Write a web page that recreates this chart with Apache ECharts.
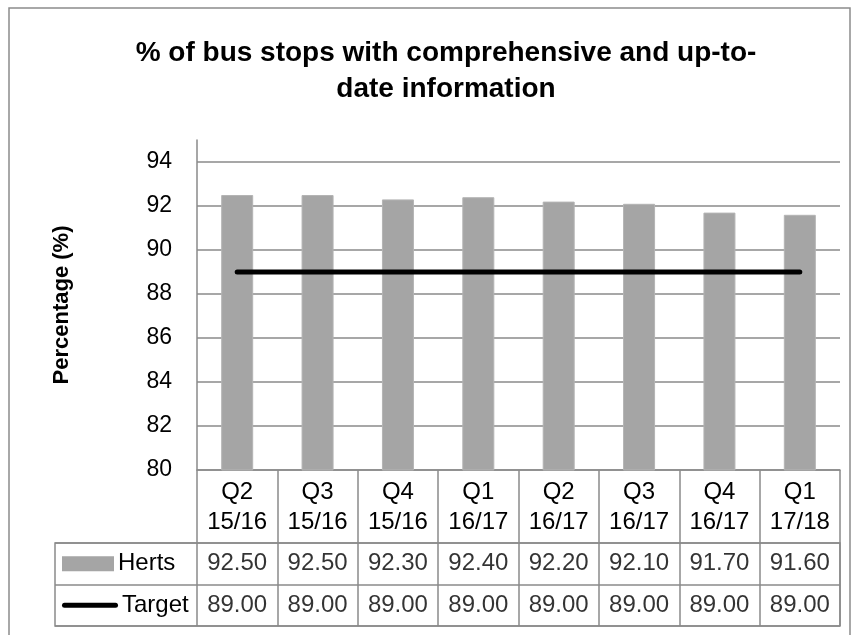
<!DOCTYPE html>
<html>
<head>
<meta charset="utf-8">
<script src="https://cdn.jsdelivr.net/npm/echarts@6/dist/echarts.min.js"></script>
<style>
  html, body { margin: 0; padding: 0; background: #fff; }
  #chart { width: 854px; height: 635px; }
</style>
</head>
<body>
<div id="chart"></div>
<script>
var quarters = ['Q2\n15/16', 'Q3\n15/16', 'Q4\n15/16', 'Q1\n16/17', 'Q2\n16/17', 'Q3\n16/17', 'Q4\n16/17', 'Q1\n17/18'];
var herts = [92.5, 92.5, 92.3, 92.4, 92.2, 92.1, 91.7, 91.6];
var target = [89, 89, 89, 89, 89, 89, 89, 89];
var rows = ['Herts', 'Target'];

var font = 'Liberation Sans, Arial, sans-serif';
var grey = '#a5a5a5';
var lineGrey = '#8a8a8a';

var chart = echarts.init(document.getElementById('chart'));

// table cells: [column, row, value]
var cells = [];
herts.forEach(function (v, i) { cells.push([i, 'Herts', v]); });
target.forEach(function (v, i) { cells.push([i, 'Target', v]); });

var option = {
    backgroundColor: '#fff',
    animation: false,
    textStyle: {fontFamily: font},
    title: {
        text: '% of bus stops with comprehensive and up-to-\ndate information',
        left: 441,
        top: 30,
        textAlign: 'center',
        textStyle: {fontSize: 28, fontWeight: 'bold', color: '#000', lineHeight: 36, fontFamily: font}
    },
    graphic: [{
        type: 'rect',
        shape: {x: 9, y: 8, width: 841, height: 700},
        style: {fill: 'none', stroke: '#8c8c8c', lineWidth: 1.5},
        silent: true
    }],
    grid: [
        {left: 197, top: 140, width: 643, height: 330},
        {left: 55, top: 543, width: 785, height: 83, show: true, borderColor: lineGrey, borderWidth: 1.5},
        {left: 197, top: 543, width: 643, height: 83}
    ],
    xAxis: [
        {
            type: 'category', gridIndex: 0, data: quarters,
            axisLine: {lineStyle: {color: lineGrey, width: 1.5}},
            axisTick: {show: true, length: 73, lineStyle: {color: lineGrey, width: 1.5}},
            axisLabel: {color: '#000', fontSize: 24, lineHeight: 30, margin: 7, interval: 0}
        },
        {type: 'value', gridIndex: 1, show: false},
        {
            type: 'category', gridIndex: 2, data: quarters,
            axisLine: {show: false}, axisTick: {show: false}, axisLabel: {show: false},
            splitLine: {show: true, interval: 0, lineStyle: {color: lineGrey, width: 1.5}}
        }
    ],
    yAxis: [
        {
            type: 'value', gridIndex: 0, min: 80, max: 95, interval: 2,
            name: 'Percentage (%)', nameLocation: 'middle', nameGap: 124,
            nameTextStyle: {fontSize: 22, fontWeight: 'bold', color: '#000'},
            axisLine: {show: true, lineStyle: {color: lineGrey, width: 1.5}},
            axisTick: {show: false},
            axisLabel: {color: '#000', fontSize: 23, margin: 25, showMaxLabel: false},
            splitLine: {show: true, showMaxLine: false, lineStyle: {color: lineGrey, width: 1.5}}
        },
        {
            type: 'category', gridIndex: 1, data: rows, inverse: true,
            axisLine: {show: false}, axisTick: {show: false}, axisLabel: {show: false},
            splitLine: {show: true, lineStyle: {color: lineGrey, width: 1.5}}
        },
        {
            type: 'category', gridIndex: 2, data: rows, inverse: true,
            axisLine: {show: false}, axisTick: {show: false},
            axisLabel: {
                margin: 135, align: 'left', fontSize: 24, color: '#000',
                formatter: function (v) {
                    return (v === 'Herts' ? '{box|}' : '{line|}') + '{name|' + v + '}';
                },
                rich: {
                    box: {width: 52, height: 15, backgroundColor: grey},
                    line: {width: 56, height: 5, backgroundColor: '#000', borderRadius: 3},
                    name: {fontSize: 24, color: '#000', padding: [0, 0, 0, 4]}
                }
            }
        }
    ],
    series: [
        {
            name: 'Herts', type: 'bar', xAxisIndex: 0, yAxisIndex: 0,
            data: herts, barWidth: 32,
            itemStyle: {color: grey, borderColor: '#b4b4b4', borderWidth: 1}
        },
        {
            name: 'Target', type: 'line', xAxisIndex: 0, yAxisIndex: 0,
            data: target, symbol: 'none',
            lineStyle: {color: '#000', width: 5, cap: 'round'}
        },
        {
            type: 'scatter', xAxisIndex: 2, yAxisIndex: 2,
            data: cells, symbolSize: 1, itemStyle: {color: 'rgba(0,0,0,0)'},
            label: {
                show: true, position: 'inside', fontSize: 24, color: '#000',
                formatter: function (p) { return p.value[2].toFixed(2); }
            }
        }
    ]
};

chart.setOption(option);
</script>
</body>
</html>
